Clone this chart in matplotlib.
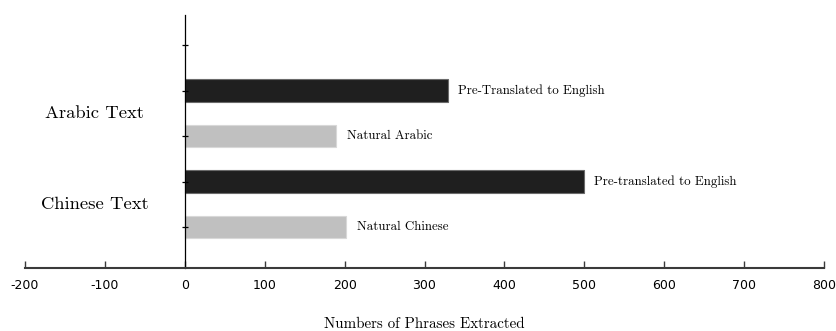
import matplotlib
matplotlib.use("Agg")
import matplotlib.pyplot as plt

# Phrase counts per source language
groups = ["Chinese Text", "Arabic Text"]
natural_labels = ["Natural Chinese", "Natural Arabic"]
natural_counts = [202, 189]
translated_labels = ["Pre-translated to English", "Pre-Translated to English"]
translated_counts = [500, 330]
x_ticks = [-200, -100, 0, 100, 200, 300, 400, 500, 600, 700, 800]

serif = "cmr10"

fig = plt.figure(figsize=(8.37, 3.31), dpi=100)
ax = fig.add_axes([25 / 837, 63 / 331, 799 / 837, 253 / 331])

bar_h = 0.5
for i, g in enumerate(groups):
    y_nat = 1 + 2 * i
    y_pre = 2 + 2 * i
    ax.barh(y_nat, natural_counts[i], height=bar_h, color="#c0c0c0",
            edgecolor="#d8d8d8", linewidth=0.8)
    ax.barh(y_pre, translated_counts[i], height=bar_h, color="#1f1f1f",
            edgecolor="#6a6a6a", linewidth=0.8)
    ax.annotate(natural_labels[i], (natural_counts[i], y_nat),
                xytext=(8, 0), textcoords="offset points",
                va="center", ha="left", fontsize=9.3, fontname=serif)
    ax.annotate(translated_labels[i], (translated_counts[i], y_pre),
                xytext=(7, 0), textcoords="offset points",
                va="center", ha="left", fontsize=9.3, fontname=serif)
    ax.text(-113, 1.5 + 2 * i, g, ha="center", va="center",
            fontsize=13.4, fontname=serif)

ax.set_xlim(-200, 800)
ax.set_ylim(0.1, 5.66)
ax.set_xticks(x_ticks)
ax.set_xticklabels([str(t) for t in x_ticks])
ax.set_yticks([1, 2, 3, 4, 5])
ax.set_yticklabels([])

for s in ["top", "right"]:
    ax.spines[s].set_visible(False)
ax.spines["left"].set_position(("data", 0))
ax.spines["left"].set_color("black")
ax.spines["left"].set_linewidth(0.9)
ax.spines["bottom"].set_color("#3a3a3a")
ax.spines["bottom"].set_linewidth(1.5)

ax.tick_params(axis="x", direction="in", length=5, width=1.0,
               color="#3a3a3a", labelsize=9, pad=8)
ax.tick_params(axis="y", direction="inout", length=5, width=0.9)

ax.set_xlabel("Numbers of Phrases Extracted", fontname=serif,
              fontsize=10.8, labelpad=18)

fig.savefig("out.png", dpi=100)
